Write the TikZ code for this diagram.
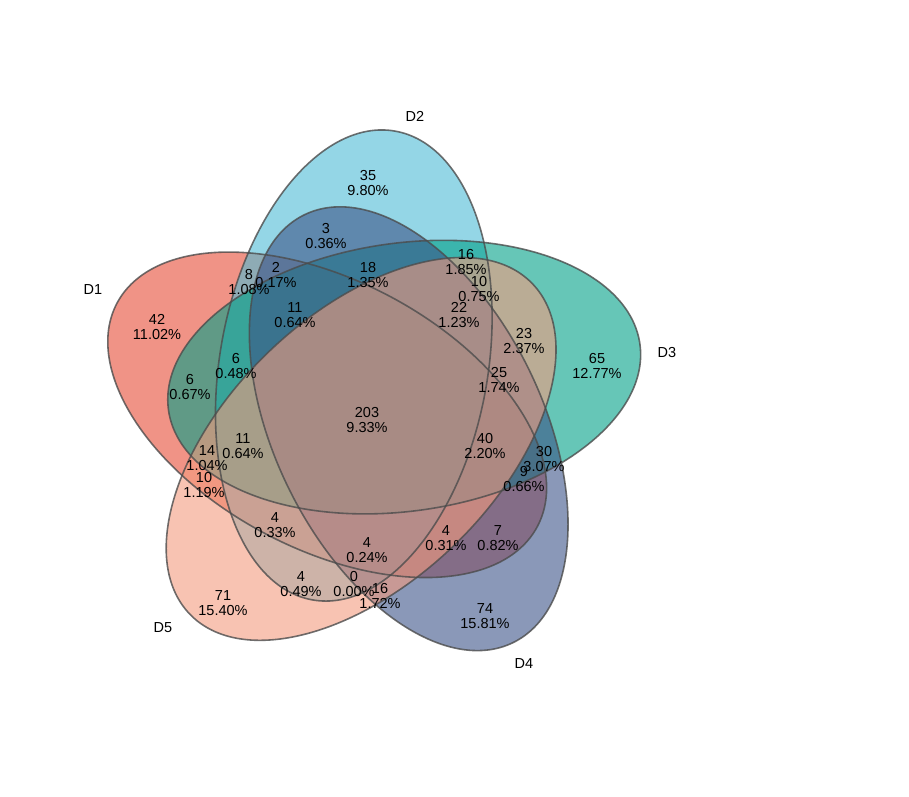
\documentclass[tikz,border=0pt]{standalone}
\usepackage{fontspec}
\setmainfont{Liberation Sans}
\usetikzlibrary{positioning}

\definecolor{cOne}{HTML}{E64B35}
\definecolor{cTwo}{HTML}{4DBBD5}
\definecolor{cThree}{HTML}{00A087}
\definecolor{cFour}{HTML}{3C5488}
\definecolor{cFive}{HTML}{F39B7F}

\tikzset{
	vfill/.style={fill opacity=0.6},
	vline/.style={line width=1.6pt, draw=black!70, draw opacity=0.8},
	cnt/.style={align=center, inner sep=0pt, font=\fontsize{14.5}{15.5}\selectfont},
	setname/.style={inner sep=0pt, font=\fontsize{14.5}{15.5}\selectfont}
}

\begin{document}
\begin{tikzpicture}[x=1pt,y=-1pt]
		\useasboundingbox (0,0) rectangle (909,796);
		
		% the five sets, fills first
		\fill[vfill, cOne, rotate around={152:(327.2,414.8)}] (327.2,414.8) ellipse (238 and 134);
		\fill[vfill, cTwo, rotate around={80:(353.8,365.5)}] (353.8,365.5) ellipse (238 and 134);
		\fill[vfill, cThree, rotate around={8:(404.2,377.1)}] (404.2,377.1) ellipse (238 and 134);
		\fill[vfill, cFour, rotate around={-64:(408.7,428.7)}] (408.7,428.7) ellipse (238 and 134);
		\fill[vfill, cFive, rotate around={44:(361.1,448.9)}] (361.1,448.9) ellipse (238 and 134);
		
		% then the outlines
		\draw[vline, rotate around={152:(327.2,414.8)}] (327.2,414.8) ellipse (238 and 134);
		\draw[vline, rotate around={80:(353.8,365.5)}] (353.8,365.5) ellipse (238 and 134);
		\draw[vline, rotate around={8:(404.2,377.1)}] (404.2,377.1) ellipse (238 and 134);
		\draw[vline, rotate around={-64:(408.7,428.7)}] (408.7,428.7) ellipse (238 and 134);
		\draw[vline, rotate around={44:(361.1,448.9)}] (361.1,448.9) ellipse (238 and 134);
		
		% set names
		\node[setname] (d1) at (93,290) {D1};
		\node[setname] (d2) at (415,116) {D2};
		\node[setname] (d3) at (667,352) {D3};
		\node[setname] (d4) at (524,663) {D4};
		\node[setname] (d5) at (163,628) {D5};
		
		% counts
		\node[cnt] (a35) at (368,183) {35\\9.80\%};
		\node[cnt] (a3) at (326,236) {3\\0.36\%};
		\node[cnt] (a16) at (466,262) {16\\1.85\%};
		\node[cnt] (a18) at (368,275) {18\\1.35\%};
		\node[cnt] (a8) at (249,282) {8\\1.08\%};
		\node[cnt] (a2) at (276,275) {2\\0.17\%};
		\node[cnt] (a10) at (479,289) {10\\0.75\%};
		\node[cnt] (a22) at (459,315) {22\\1.23\%};
		\node[cnt] (a11) at (295,315) {11\\0.64\%};
		\node[cnt] (a42) at (157,327) {42\\11.02\%};
		\node[cnt] (a23) at (524,341) {23\\2.37\%};
		\node[cnt] (a65) at (597,366) {65\\12.77\%};
		\node[cnt] (a6) at (236,366) {6\\0.48\%};
		\node[cnt] (a6b) at (190,387) {6\\0.67\%};
		\node[cnt] (a25) at (499,380) {25\\1.74\%};
		\node[cnt] (a203) at (367,420) {203\\9.33\%};
		\node[cnt] (a11b) at (243,446) {11\\0.64\%};
		\node[cnt] (a14) at (207,458) {14\\1.04\%};
		\node[cnt] (a10b) at (204,485) {10\\1.19\%};
		\node[cnt] (a40) at (485,446) {40\\2.20\%};
		\node[cnt] (a30) at (544,459) {30\\3.07\%};
		\node[cnt] (a9) at (524,479) {9\\0.66\%};
		\node[cnt] (a4) at (275,525) {4\\0.33\%};
		\node[cnt] (a4b) at (367,550) {4\\0.24\%};
		\node[cnt] (a4c) at (446,538) {4\\0.31\%};
		\node[cnt] (a7) at (498,538) {7\\0.82\%};
		\node[cnt] (a4d) at (301,584) {4\\0.49\%};
		\node[cnt] (a0) at (354,584) {0\\0.00\%};
		\node[cnt] (a16b) at (380,596) {16\\1.72\%};
		\node[cnt] (a71) at (223,603) {71\\15.40\%};
		\node[cnt] (a74) at (485,616) {74\\15.81\%};
\end{tikzpicture}
\end{document}
